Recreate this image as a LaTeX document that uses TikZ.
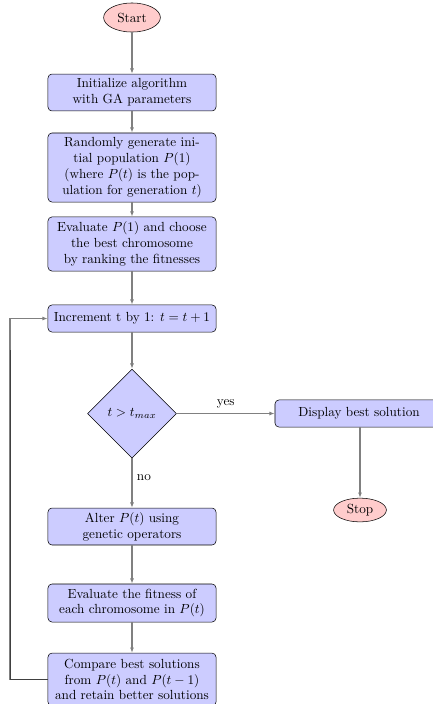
\documentclass[tikz,border=0pt]{standalone}
\usetikzlibrary{shapes.geometric,arrows.meta}
\begin{document}
\begin{tikzpicture}[x=0.7576pt,y=-0.7576pt,
  block/.style={rectangle,draw=black,fill=blue!20,rounded corners=3pt,align=center,
    minimum width=127.3pt,inner sep=2pt,font=\normalsize},
  term/.style={ellipse,draw=black,fill=red!20,inner sep=0pt},
  decide/.style={diamond,draw=black,fill=blue!20,minimum width=67.4pt,minimum height=67.4pt,inner sep=0pt},
  conn/.style={draw=gray,line width=0.8pt,-{Latex[length=4pt,width=3pt]}},
  lbl/.style={font=\normalsize}]
\useasboundingbox (0,0) rectangle (433,704);
\node[term,minimum width=43pt,minimum height=22pt] (start) at (132,17.5) {Start};
\node[block,minimum height=28pt] (init) at (132,92.5) {Initialize algorithm\\with GA parameters};
\node[block,minimum height=52.3pt] (rand) at (132,167.5) {Randomly generate ini-\\tial population $P(1)$\\(where $P(t)$ is the pop-\\ulation for generation $t$)};
\node[block,minimum height=41pt] (eval) at (132,244) {Evaluate $P(1)$ and choose\\the best chromosome\\by ranking the fitnesses};
\node[block,minimum height=20.5pt] (incr) at (132,318.5) {Increment t by 1: $t=t+1$};
\node[decide] (dec) at (132,413.5) {$t>t_{max}$};
\node[block,minimum height=20.5pt] (disp) at (359,413.5) {Display best solution};
\node[term,minimum width=40pt,minimum height=18pt] (stop) at (360,510) {Stop};
\node[block,minimum height=28pt] (alter) at (132,526.5) {Alter $P(t)$ using\\genetic operators};
\node[block,minimum height=28.8pt] (fit) at (132,603) {Evaluate the fitness of\\each chromosome in $P(t)$};
\node[block,minimum height=40pt] (comp) at (132,679.5) {Compare best solutions\\from $P(t)$ and $P(t-1)$\\and retain better solutions};
\coordinate (fb) at (10,679.5);
\coordinate (fbtop) at (10,318.5);
\path[conn] (start) -- (init);
\path[conn] (init) -- (rand);
\path[conn] (rand) -- (eval);
\path[conn] (eval) -- (incr);
\path[conn] (incr) -- (dec);
\path[conn] (dec) -- node[lbl,above,pos=0.5] (yes) {yes} (disp);
\path[conn] (disp.south -| stop) -- (stop);
\path[conn] (dec) -- node[lbl,right,pos=0.4] (no) {no} (alter);
\path[conn] (alter) -- (fit);
\path[conn] (fit) -- (comp);
\path[conn] (comp.west) -- (fb) -- (fbtop) -- (incr.west);
\draw[black!75,line width=0.4pt] (comp.west) -- (fb) -- ++(0,-330);
\end{tikzpicture}
\end{document}
